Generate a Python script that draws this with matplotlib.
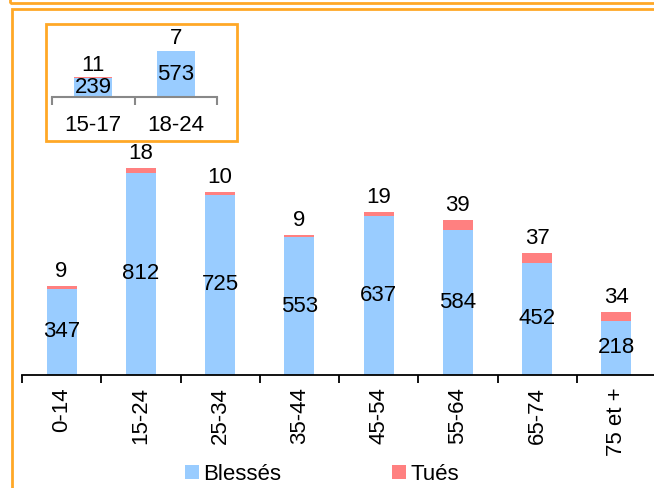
import matplotlib.pyplot as plt
from matplotlib.patches import Rectangle
import numpy as np

plt.rcParams['font.family'] = ['Liberation Sans', 'DejaVu Sans']

# données principales
categories = ['0-14', '15-24', '25-34', '35-44', '45-54', '55-64', '65-74', '75 et +']
blesses = [347, 812, 725, 553, 637, 584, 452, 218]
tues = [9, 18, 10, 9, 19, 39, 37, 34]

# encadré 15-24
sub_categories = ['15-17', '18-24']
sub_blesses = [239, 573]
sub_tues = [11, 7]

c_bleu = '#99CCFF'
c_rouge = '#FF8080'
c_orange = '#FFA827'
fs = 16

W, H = 654, 488
fig = plt.figure(figsize=(W / 100, H / 100), dpi=100)

def px(x0, y0, x1, y1):
    # rectangle en pixels (origine en haut à gauche) -> coordonnées figure
    return [x0 / W, 1 - y1 / H, (x1 - x0) / W, (y1 - y0) / H]

# cadres orange
fig.patches.append(Rectangle((10 / W, 1 - 3 / H), 660 / W, 30 / H, transform=fig.transFigure,
                             fill=False, ec=c_orange, lw=2))
fig.patches.append(Rectangle((12 / W, -0.1), 660 / W, 1.1 - 9 / H, transform=fig.transFigure,
                             fill=False, ec=c_orange, lw=2))

# graphique principal
ax = fig.add_axes(px(22, 150, 656, 375))
x = np.arange(len(categories))
b1 = ax.bar(x, blesses, width=0.38, color=c_bleu, label='Blessés')
b2 = ax.bar(x, tues, width=0.38, bottom=blesses, color=c_rouge, label='Tués')
ax.bar_label(b1, labels=[str(v) for v in blesses], label_type='center', fontsize=fs)
ax.bar_label(b2, labels=[str(v) for v in tues], padding=3, fontsize=fs)
ax.set_xlim(-0.5, len(categories) - 0.5)
ax.set_ylim(0, 904)
for s in ['top', 'right', 'left']:
    ax.spines[s].set_visible(False)
ax.spines['bottom'].set_linewidth(1.3)
ax.set_yticks([])
ax.set_xticks(np.arange(len(categories) + 1) - 0.5)
ax.set_xticklabels([])
ax.tick_params(axis='x', which='major', length=6, width=1.3, direction='out')
ax.set_xticks(x, minor=True)
ax.set_xticklabels(categories, minor=True, rotation=90, fontsize=fs)
ax.tick_params(axis='x', which='minor', length=0, pad=9)

# encadré
fig.patches.append(Rectangle((46 / W, 1 - 141 / H), 191 / W, 117 / H, transform=fig.transFigure,
                             fill=False, ec=c_orange, lw=2))
ax2 = fig.add_axes(px(52, 30, 217, 97))
xs = np.arange(len(sub_categories))
s1 = ax2.bar(xs, sub_blesses, width=0.46, color=c_bleu)
s2 = ax2.bar(xs, sub_tues, width=0.46, bottom=sub_blesses, color=c_rouge)
ax2.bar_label(s1, labels=[str(v) for v in sub_blesses], label_type='center', fontsize=fs)
ax2.bar_label(s2, labels=[str(v) for v in sub_tues], padding=1, fontsize=fs)
ax2.set_xlim(-0.5, len(sub_categories) - 0.5)
ax2.set_ylim(0, 837)
ax2.patch.set_visible(False)
for s in ['top', 'right', 'left']:
    ax2.spines[s].set_visible(False)
ax2.spines['bottom'].set_color('#888888')
ax2.spines['bottom'].set_linewidth(1.5)
ax2.set_yticks([])
ax2.set_xticks(np.arange(len(sub_categories) + 1) - 0.5)
ax2.set_xticklabels([])
ax2.tick_params(axis='x', which='major', length=6, width=1.5, color='#888888')
ax2.set_xticks(xs, minor=True)
ax2.set_xticklabels(sub_categories, minor=True, fontsize=fs)
ax2.tick_params(axis='x', which='minor', length=0, pad=13)

# légende
fig.legend(handles=[b1, b2], loc='center', bbox_to_anchor=(322 / W, 14 / H), ncol=2,
           frameon=False, fontsize=fs, handlelength=0.6, handleheight=0.6,
           handletextpad=0.2, columnspacing=5.0, borderpad=0)

plt.savefig('out.png', dpi=100)
